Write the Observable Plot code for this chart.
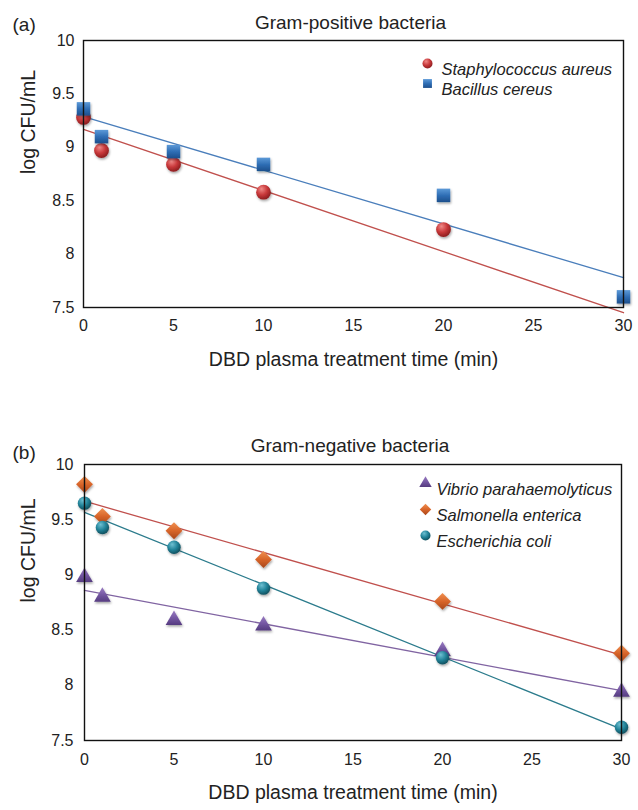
<!DOCTYPE html>
<html>
<head>
<meta charset="utf-8">
<script src="https://cdn.jsdelivr.net/npm/d3@7"></script>
<script src="https://cdn.jsdelivr.net/npm/@observablehq/plot@0.6"></script>
<style>
  html, body { margin: 0; padding: 0; background: #fff; }
  #chart svg { display: block; }
</style>
</head>
<body>
<div id="chart"></div>
<script>
// ---- data ----
const times = [0, 1, 5, 10, 20, 30];
const xTicks = [0, 5, 10, 15, 20, 25, 30];
const yTicks = [7.5, 8, 8.5, 9, 9.5, 10];

// (a) Gram-positive
const staphAureus    = [9.28, 8.97, 8.84, 8.58, 8.23, 7.33];
const bacillusCereus = [9.36, 9.10, 8.96, 8.84, 8.55, 7.60];
// (b) Gram-negative
const vibrioPara     = [8.98, 8.80, 8.59, 8.54, 8.31, 7.94];
const salmonellaEnt  = [9.82, 9.53, 9.40, 9.14, 8.76, 8.29];
const escherichiaCol = [9.65, 9.43, 9.25, 8.88, 8.25, 7.62];

const xLabel = "DBD plasma treatment time (min)";
const yLabel = "log CFU/mL";

const FONT = "'Liberation Sans', Arial, Helvetica, sans-serif";
const W = 638;

function rows(values) { return times.map((t, i) => ({t, v: values[i]})); }

function addDefs(svg, grads, shadowId) {
  const defs = d3.select(svg).insert("defs", ":first-child");
  const f = defs.append("filter").attr("id", shadowId)
    .attr("x", "-40%").attr("y", "-40%").attr("width", "180%").attr("height", "180%");
  f.append("feDropShadow").attr("dx", 0.8).attr("dy", 1.6).attr("stdDeviation", 1.1)
    .attr("flood-color", "#000").attr("flood-opacity", 0.35);
  for (const g of grads) {
    if (g.type === "radial") {
      const rg = defs.append("radialGradient").attr("id", g.id)
        .attr("cx", "40%").attr("cy", "34%").attr("r", "68%").attr("fx", "36%").attr("fy", "28%");
      rg.append("stop").attr("offset", "0%").attr("stop-color", g.c0);
      rg.append("stop").attr("offset", "55%").attr("stop-color", g.c1);
      rg.append("stop").attr("offset", "100%").attr("stop-color", g.c2);
    } else {
      const lg = defs.append("linearGradient").attr("id", g.id)
        .attr("x1", "0").attr("y1", "0").attr("x2", "0").attr("y2", "1");
      lg.append("stop").attr("offset", "0%").attr("stop-color", g.c0);
      lg.append("stop").attr("offset", "50%").attr("stop-color", g.c1);
      lg.append("stop").attr("offset", "100%").attr("stop-color", g.c2);
    }
  }
  d3.select(svg).selectAll(".shadowed path, .shadowed circle").attr("filter", `url(#${shadowId})`);
}

function panel(cfg) {
  const marks = [];
  marks.push(Plot.axisY({ticks: yTicks, tickSize: 0, tickPadding: cfg.yPad, tickFormat: d => String(d), fontSize: 16, label: null}));
  marks.push(Plot.axisX({ticks: xTicks, tickSize: 0, tickPadding: cfg.xPad, fontSize: 16, label: null}));
  for (const s of cfg.series) {
    marks.push(Plot.linearRegressionY(rows(s.values), {x: "t", y: "v", stroke: s.line, strokeWidth: 1.3, ci: 0}));
  }
  for (const s of cfg.series) {
    marks.push(Plot.dot(rows(s.values), {
      x: "t", y: "v", symbol: s.symbol, r: s.r, fill: `url(#${s.grad.id})`, stroke: "none",
      filter: d => d.v >= yTicks[0], className: "shadowed"
    }));
  }
  cfg.series.forEach((s, i) => {
    const dy = cfg.legDy0 + i * cfg.legStep;
    marks.push(Plot.dot([s.name], {frameAnchor: "top-left", dx: cfg.legDx, dy, symbol: s.symbol, r: s.legR, fill: `url(#${s.grad.id})`, stroke: "none"}));
    marks.push(Plot.text([s.name], {frameAnchor: "top-left", dx: cfg.legTextDx, dy, text: d => d, textAnchor: "start", fontStyle: "italic", fontSize: 16.5, fill: "#222"}));
  });
  marks.push(Plot.frame({stroke: "#111", strokeWidth: 1.4}));
  marks.push(Plot.text([cfg.title], {frameAnchor: "top", dx: -3, dy: cfg.titleDy, text: d => d, fontSize: 19, fill: "#222"}));
  marks.push(Plot.text([cfg.tag], {frameAnchor: "top-left", dx: 12 - cfg.ml, dy: cfg.tagDy, text: d => d, textAnchor: "start", fontSize: 19, fill: "#222"}));
  marks.push(Plot.text([xLabel], {frameAnchor: "bottom", dy: cfg.xLabDy, text: d => d, fontSize: 19.5, fill: "#222"}));
  marks.push(Plot.text([yLabel], {frameAnchor: "left", dx: cfg.yLabDx, rotate: -90, text: d => d, fontSize: 19.5, fill: "#222"}));

  const svg = Plot.plot({
    width: W, height: cfg.height,
    marginTop: cfg.mt, marginBottom: cfg.mb, marginLeft: cfg.ml, marginRight: cfg.mr,
    x: {domain: [0, 30], label: null},
    y: {domain: [7.5, 10], label: null},
    style: {fontFamily: FONT, fontSize: "16px", color: "#222", background: "#fff", overflow: "visible"},
    marks
  });
  addDefs(svg, cfg.series.map(s => s.grad), cfg.shadowId);
  return svg;
}

const panelA = panel({
  height: 400, mt: 40, mb: 93, ml: 83, mr: 15, shadowId: "shA",
  yPad: 9, xPad: 12, title: "Gram-positive bacteria", tag: "(a)", titleDy: -25, tagDy: -23,
  xLabDy: 58, yLabDx: -55,
  legDx: 344, legTextDx: 358, legDy0: 23, legStep: 20,
  series: [
    {name: "Staphylococcus aureus", values: staphAureus, symbol: "circle", r: 7.4, legR: 5, line: "#c0504d",
     grad: {id: "gA1", type: "radial", c0: "#f08a88", c1: "#c8383a", c2: "#8a1c1e"}},
    {name: "Bacillus cereus", values: bacillusCereus, symbol: "square", r: 7.6, legR: 5, line: "#4a7ebb",
     grad: {id: "gA2", type: "linear", c0: "#5d9ad8", c1: "#2f6eb5", c2: "#1d4f8c"}}
  ]
});

const panelB = panel({
  height: 410, mt: 64, mb: 70, ml: 84, mr: 17, shadowId: "shB",
  yPad: 11, xPad: 13, title: "Gram-negative bacteria", tag: "(b)", titleDy: -26, tagDy: -19,
  xLabDy: 58, yLabDx: -56,
  legDx: 341, legTextDx: 352, legDy0: 19, legStep: 26,
  series: [
    {name: "Vibrio parahaemolyticus", values: vibrioPara, symbol: "triangle", r: 6.2, legR: 4.6, line: "#8064a2",
     grad: {id: "gB1", type: "linear", c0: "#9a7cc2", c1: "#7558a3", c2: "#553b80"}},
    {name: "Salmonella enterica", values: salmonellaEnt, symbol: "diamond2", r: 7.6, legR: 5.2, line: "#c0504d",
     grad: {id: "gB2", type: "linear", c0: "#f09050", c1: "#d8652a", c2: "#a8461a"}},
    {name: "Escherichia coli", values: escherichiaCol, symbol: "circle", r: 6.7, legR: 5, line: "#2b7b8c",
     grad: {id: "gB3", type: "radial", c0: "#6fc0d2", c1: "#23849a", c2: "#0f4e5c"}}
  ]
});

document.getElementById("chart").append(panelA, panelB);
</script>
</body>
</html>
